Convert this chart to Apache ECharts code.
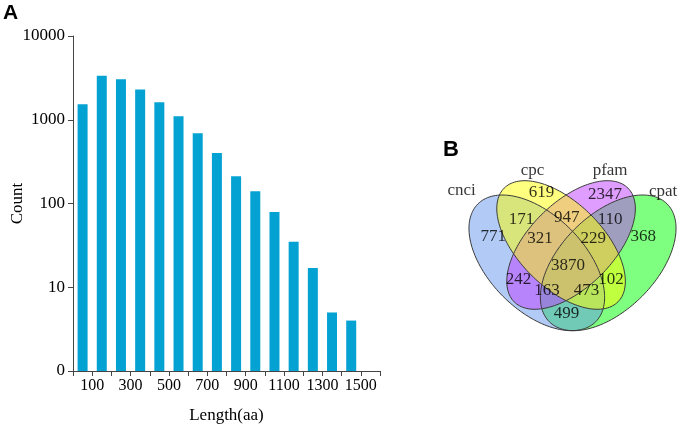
<!DOCTYPE html>
<html>
<head>
<meta charset="utf-8">
<script src="https://cdn.jsdelivr.net/npm/echarts@6/dist/echarts.min.js"></script>
<style>
  html, body { margin: 0; padding: 0; background: #fff; }
  #main { width: 685px; height: 442px; }
</style>
</head>
<body>
<div id="main"></div>
<script>
  // panel A : protein length distribution (bin centres in aa, counts)
  var lengthBins = [50, 150, 250, 350, 450, 550, 650, 750, 850, 950, 1050, 1150, 1250, 1350, 1450];
  var lengthCounts = [1530, 3360, 3040, 2290, 1620, 1100, 690, 400, 211, 140, 79, 35, 17, 5, 4];
  var xLabelValues = [100, 300, 500, 700, 900, 1100, 1300, 1500];

  // panel B : venn of the four coding predictors
  var setNames = ["cnci", "cpc", "pfam", "cpat"];
  var regionCounts = [771, 619, 2347, 368, 171, 947, 110, 321, 229, 3870, 242, 102, 163, 473, 499];

  // venn layout (unit square), kept apart from the counts; listed in drawing order
  var vennShapes = [
    { set: "cpat", cx: 0.65, cy: 0.47, a: 0.35, b: 0.2, rot: 45, color: "rgba(0,255,0,0.5)" },
    { set: "cnci", cx: 0.35, cy: 0.47, a: 0.35, b: 0.2, rot: 135, color: "rgba(100,149,237,0.5)" },
    { set: "pfam", cx: 0.494, cy: 0.545, a: 0.338, b: 0.178, rot: 45, color: "rgba(191,62,255,0.5)" },
    { set: "cpc", cx: 0.452, cy: 0.545, a: 0.338, b: 0.178, rot: 135, color: "rgba(255,255,0,0.5)" },
  ];
  var regionPos = [
    [0.167, 0.58], [0.37, 0.766], [0.637, 0.757], [0.797, 0.58],
    [0.286, 0.65], [0.476, 0.659], [0.658, 0.65], [0.363, 0.573],
    [0.587, 0.573], [0.481, 0.459], [0.273, 0.4], [0.662, 0.4],
    [0.393, 0.354], [0.559, 0.352], [0.475, 0.255],
  ];
  var setLabelPos = [[0.034, 0.772], [0.332, 0.856], [0.658, 0.856], [0.881, 0.77]];

  var serif = "Liberation Serif";
  var myChart = echarts.init(document.getElementById("main"));

  function ellipseItem(stroke) {
    return function (params, api) {
      var s = vennShapes[params.dataIndex];
      var t = (s.rot * Math.PI) / 180;
      var pts = [];
      for (var k = 0; k < 160; k++) {
        var u = (k / 160) * 2 * Math.PI;
        var ex = s.a * Math.cos(u);
        var ey = s.b * Math.sin(u);
        pts.push(api.coord([s.cx + ex * Math.cos(t) - ey * Math.sin(t), s.cy + ex * Math.sin(t) + ey * Math.cos(t)]));
      }
      return {
        type: "polygon",
        shape: { points: pts },
        style: stroke ? { fill: "none", stroke: "#3a3a3a", lineWidth: 1 } : { fill: s.color },
      };
    };
  }

  var option = {
    animation: false,
    backgroundColor: "#fff",
    graphic: [
      { type: "text", left: 3, top: 3, style: { text: "A", font: "bold 21px Liberation Sans", fill: "#000" } },
      { type: "text", left: 443, top: 139, style: { text: "B", font: "bold 22px Liberation Sans", fill: "#000" } },
    ],
    grid: [
      { left: 73, top: 36, width: 307, height: 335 },
      { left: 453.5, top: 136.7, width: 214.2, height: 238 },
    ],
    xAxis: [
      {
        gridIndex: 0,
        type: "value",
        min: 0,
        max: 1600,
        interval: 100,
        name: "Length(aa)",
        nameLocation: "middle",
        nameGap: 36,
        nameMoveOverlap: false,
        nameTextStyle: { fontFamily: serif, fontSize: 17, color: "#000" },
        axisLine: { show: true, lineStyle: { color: "#444", width: 1 } },
        axisTick: { show: true, length: 5, lineStyle: { color: "#444" } },
        splitLine: { show: false },
        axisLabel: {
          margin: 7,
          fontFamily: serif,
          fontSize: 16,
          color: "#000",
          showMinLabel: true,
          showMaxLabel: true,
          formatter: function (v) {
            return xLabelValues.indexOf(v) >= 0 ? String(v) : "";
          },
        },
      },
      { gridIndex: 1, type: "value", min: 0, max: 0.9, show: false },
    ],
    yAxis: [
      {
        gridIndex: 0,
        type: "log",
        logBase: 10,
        min: 1,
        max: 10000,
        name: "Count",
        nameLocation: "middle",
        nameRotate: 90,
        nameGap: 47,
        nameMoveOverlap: false,
        nameTextStyle: { fontFamily: serif, fontSize: 17, color: "#000" },
        axisLine: { show: true, lineStyle: { color: "#444", width: 1 } },
        axisTick: { show: true, length: 5, lineStyle: { color: "#444" } },
        minorTick: { show: false },
        splitLine: { show: false },
        axisLabel: {
          margin: 8,
          fontFamily: serif,
          fontSize: 17,
          color: "#000",
          formatter: function (v) {
            return v === 1 ? "0" : String(v);
          },
        },
      },
      { gridIndex: 1, type: "value", min: 0, max: 1, show: false },
    ],
    series: [
      {
        type: "bar",
        xAxisIndex: 0,
        yAxisIndex: 0,
        barWidth: 10,
        itemStyle: { color: "#04a2d3" },
        data: lengthBins.map(function (x, i) {
          return [x, lengthCounts[i]];
        }),
      },
      {
        type: "custom",
        xAxisIndex: 1,
        yAxisIndex: 1,
        silent: true,
        renderItem: ellipseItem(false),
        data: vennShapes.map(function (s) {
          return [s.cx, s.cy];
        }),
        z: 2,
      },
      {
        type: "custom",
        xAxisIndex: 1,
        yAxisIndex: 1,
        silent: true,
        renderItem: ellipseItem(true),
        data: vennShapes.map(function (s) {
          return [s.cx, s.cy];
        }),
        z: 3,
      },
      {
        type: "scatter",
        xAxisIndex: 1,
        yAxisIndex: 1,
        silent: true,
        clip: false,
        symbolSize: 0,
        z: 4,
        label: {
          show: true,
          position: "inside",
          fontFamily: serif,
          fontSize: 17,
          color: "#000",
          formatter: function (p) {
            return p.value[2];
          },
        },
        data: regionPos.map(function (p, i) {
          return [p[0], p[1], regionCounts[i]];
        }),
      },
      {
        type: "scatter",
        xAxisIndex: 1,
        yAxisIndex: 1,
        silent: true,
        clip: false,
        symbolSize: 0,
        z: 4,
        label: {
          show: true,
          position: "inside",
          fontFamily: serif,
          fontSize: 17,
          color: "#000",
          formatter: function (p) {
            return p.value[2];
          },
        },
        data: setLabelPos.map(function (p, i) {
          return [p[0], p[1], setNames[i]];
        }),
      },
    ],
  };

  myChart.setOption(option);
</script>
</body>
</html>
